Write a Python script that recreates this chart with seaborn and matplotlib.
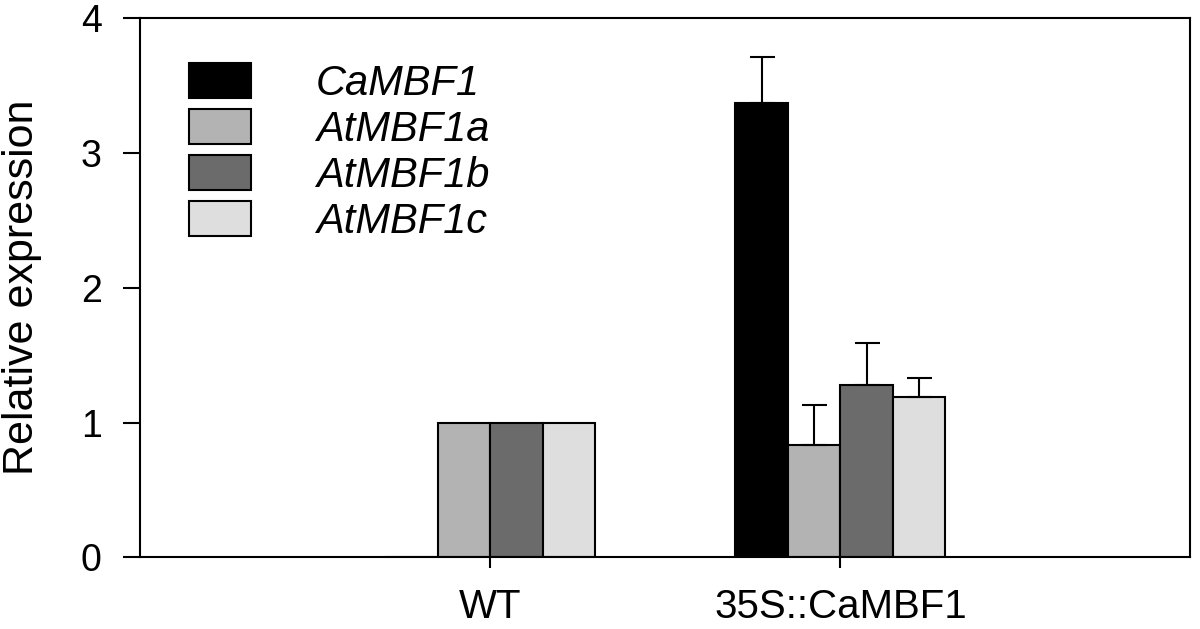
import numpy as np
import pandas as pd
import matplotlib.pyplot as plt
import seaborn as sns

# 데이터
genotypes = ["WT", "35S::CaMBF1"]
genes = ["CaMBF1", "AtMBF1a", "AtMBF1b", "AtMBF1c"]
wt_values = [0.0, 1.0, 1.0, 1.0]
oe_values = [3.37, 0.83, 1.28, 1.19]
oe_errors = [0.34, 0.30, 0.31, 0.14]
colors = ["#000000", "#b3b3b3", "#6b6b6b", "#dedede"]

df = pd.DataFrame({
    "genotype": [genotypes[0]] * 4 + [genotypes[1]] * 4,
    "gene": genes * 2,
    "value": wt_values + oe_values,
})

sns.set_style("ticks", rc={"axes.edgecolor": "black", "text.color": "black",
                           "axes.labelcolor": "black", "xtick.color": "black",
                           "ytick.color": "black"})
plt.rcParams['font.family'] = ['Liberation Sans', 'DejaVu Sans']

fig, ax = plt.subplots(figsize=(12, 6.29), dpi=100)
sns.barplot(data=df, x="genotype", y="value", hue="gene", hue_order=genes,
            palette=colors, edgecolor="black", linewidth=1.5, width=0.6,
            errorbar=None, ax=ax)

# 35S 쪽 에러바 (위쪽만)
for cont, err in zip(ax.containers, oe_errors):
    bar = cont.patches[1]
    x = bar.get_x() + bar.get_width() / 2
    ax.errorbar(x, bar.get_height(), yerr=[[0], [err]], fmt="none",
                ecolor="black", elinewidth=1.5, capsize=9, capthick=1.5, zorder=1)

ax.set_xlim(-1, 2)
ax.set_ylim(0, 4)
ax.set_yticks([0, 1, 2, 3, 4])
ax.set_xlabel("")
ax.set_ylabel("Relative expression", fontsize=31, labelpad=28)
ax.tick_params(axis="y", labelsize=27, direction="out", width=1.5, length=12, pad=16)
ax.tick_params(axis="x", labelsize=29, direction="out", width=1.5, length=8, pad=14)
for s in ax.spines.values():
    s.set_visible(True)
    s.set_linewidth(1.5)

handles, labels = ax.get_legend_handles_labels()
leg = ax.legend(handles, labels, loc="upper left", bbox_to_anchor=(0.046, 0.917),
                frameon=False, borderpad=0, borderaxespad=0,
                handlelength=1.5, handleheight=0.92,
                handletextpad=1.55, labelspacing=0.12,
                prop={"style": "italic", "size": 30})

plt.subplots_adjust(left=0.117, right=0.992, top=0.971, bottom=0.114)
plt.savefig("out.png", dpi=100)
